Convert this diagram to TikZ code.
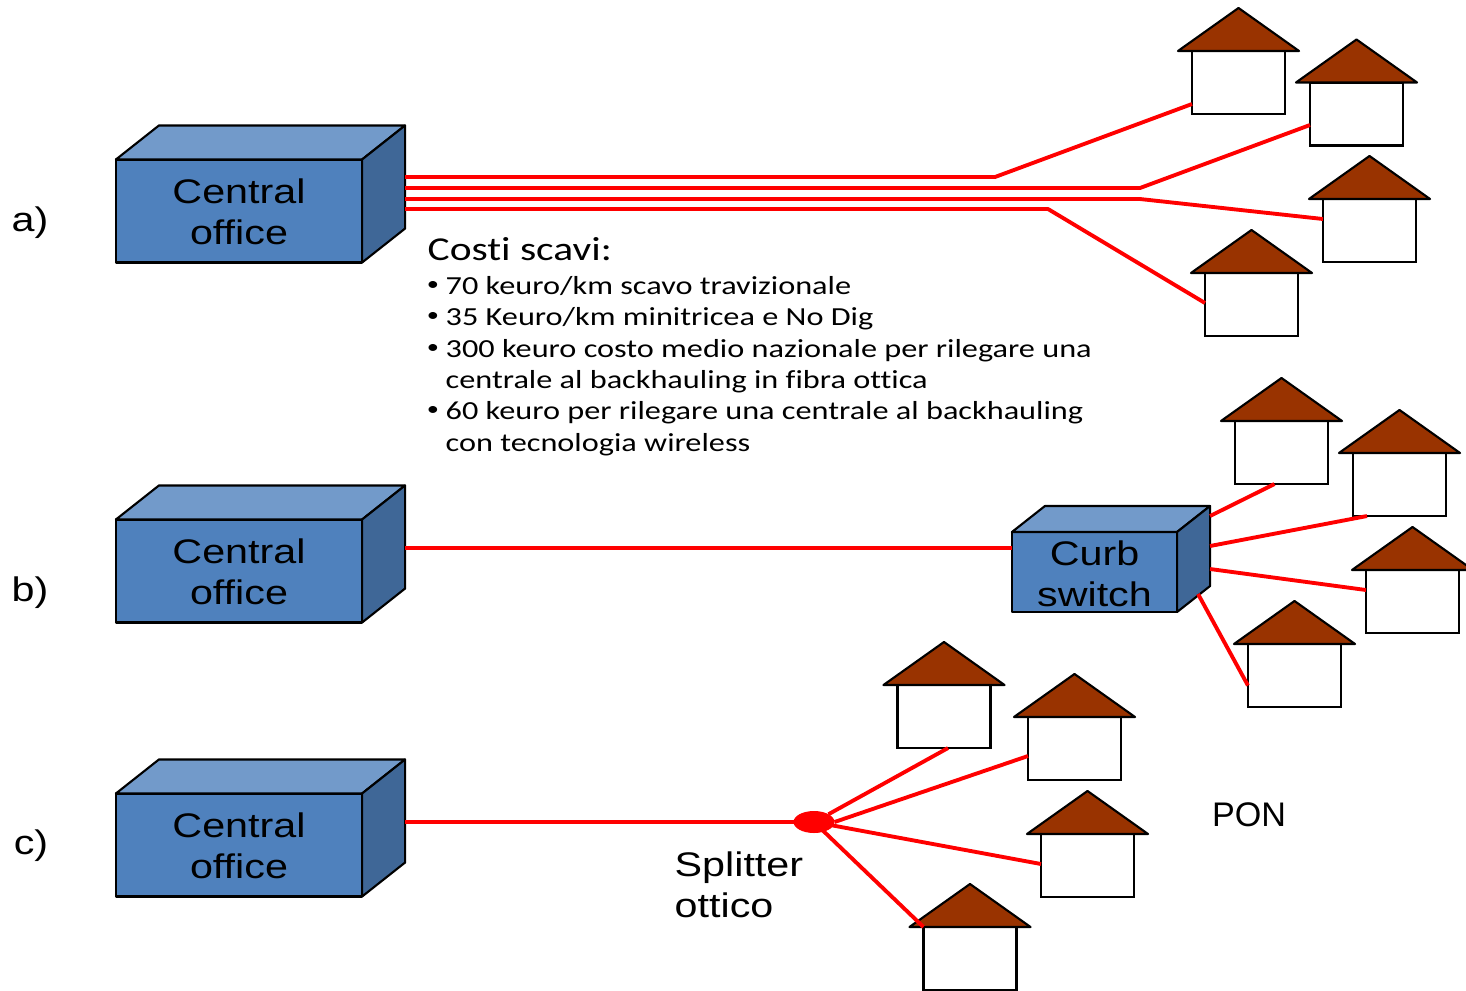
\documentclass[tikz,border=0pt]{standalone}
\usepackage{fontspec}
\setmainfont{Liberation Sans}
\newfontfamily\widearial[FakeStretch=1.21]{Liberation Sans}
\newfontfamily\widecalibri[FakeStretch=1.24,Ligatures=NoCommon]{Carlito}
\usetikzlibrary{shapes.geometric}
\definecolor{boxfront}{HTML}{4F81BD}
\definecolor{boxtop}{HTML}{729ACA}
\definecolor{boxside}{HTML}{3F6797}
\definecolor{roofbrown}{HTML}{993300}
\tikzset{
  boxface/.style={draw=black,line width=0.6pt,line join=round},
  frontface/.style={boxface,fill=boxfront,inner sep=0pt,outer sep=0pt},
  fronttext/.style={inner sep=0pt,align=center,font=\widearial\fontsize{9.7}{11.7}\selectfont},
  housebody/.style={draw=black,line width=0.6pt,fill=white,inner sep=0pt,outer sep=0pt,
    minimum width=0.93cm,minimum height=0.63cm},
  roof/.style={draw=black,line width=0.6pt,fill=roofbrown,line join=round},
  fibre/.style={red,line width=1.1pt,line join=round},
  label/.style={inner sep=0pt,align=left,font=\widearial\fontsize{9.7}{11.7}\selectfont},
  costi/.style={inner sep=0pt,anchor=base west,font=\widecalibri\fontsize{7.4}{8.9}\selectfont},
}
% box: front node already placed, #2 and #3 give the depth
\newcommand{\boxfaces}[3]{%
  \draw[boxface,fill=boxtop] (#1.north west) -- ([shift={(#2,-#3)}]#1.north west)
    -- ([shift={(#2,-#3)}]#1.north east) -- (#1.north east) -- cycle;%
  \draw[boxface,fill=boxside] (#1.north east) -- ([shift={(#2,-#3)}]#1.north east)
    -- ([shift={(#2,-#3)}]#1.south east) -- (#1.south east) -- cycle;%
}
\newcommand{\house}[3]{%
  \node[housebody] (#1) at (#2,#3) {};%
  \draw[roof] ([shift={(-14,0)}]#1.north west) -- ([shift={(0,-43)}]#1.north)
    -- ([shift={(14,0)}]#1.north east) -- cycle;%
}
\newcommand{\bulletmark}{\llap{\raisebox{0.13em}{\fontsize{5.6}{6}\selectfont\textbullet}\hspace{0.26em}}}
\begin{document}
\begin{tikzpicture}[x=0.01cm,y=-0.01cm]
  \useasboundingbox (0,0) rectangle (1466,990);

  \node[frontface,minimum width=2.46cm,minimum height=1.03cm] (COa) at (239,211) {};%
  \node[frontface,minimum width=2.46cm,minimum height=1.03cm] (COb) at (239,571) {};%
  \node[frontface,minimum width=2.46cm,minimum height=1.03cm] (COc) at (239,845) {};%
  \node[frontface,minimum width=1.65cm,minimum height=0.80cm] (Curb) at (1094.5,572) {};%
  \boxfaces{COa}{43}{34}
  \boxfaces{COb}{43}{34}
  \boxfaces{COc}{43}{34}
  \boxfaces{Curb}{33}{26}
  \node[fronttext] (COaText) at (239,212) {Central\\office};%
  \node[fronttext] (CObText) at (239,572) {Central\\office};%
  \node[fronttext] (COcText) at (239,846) {Central\\office};%
  \node[fronttext] (CurbText) at (1094.5,573.5) {Curb\\switch};%

  \house{Ha1}{1238.5}{82.5}
  \house{Ha2}{1356.5}{114}
  \house{Ha3}{1369.5}{230.5}
  \house{Ha4}{1251.5}{304.5}

  \house{Hb1}{1281.5}{452.5}
  \house{Hb2}{1399.5}{484.5}
  \house{Hb3}{1412.5}{601.5}
  \house{Hb4}{1294.5}{675.5}

  \house{Hc1}{944}{716.5}
  \house{Hc2}{1074.5}{748.5}
  \house{Hc3}{1087.5}{865.5}
  \house{Hc4}{970}{958.5}

  % a) one fibre per house
  \draw[fibre] ([shift={(43,-34)}]COa.east) -- (995,177) -- ([yshift=-0.215cm]Ha1.west);%
  \draw[fibre] ([shift={(43,-23)}]COa.east) -- (1140,188) -- ([yshift=-0.11cm]Ha2.west);%
  \draw[fibre] ([shift={(43,-12)}]COa.east) -- (1140,199) -- ([yshift=0.115cm]Ha3.west);%
  \draw[fibre] ([shift={(43,-2)}]COa.east) -- (1048,209) -- ([yshift=0.015cm]Ha4.west);%

  % b) one fibre up to the curb, then copper
  \draw[fibre] ([shift={(43,-23)}]COb.east) -- (Curb.west |- 0,548);%
  \draw[fibre] ([shift={(33,-56)}]Curb.east) -- ([xshift=-0.07cm]Hb1.south);%
  \draw[fibre] ([shift={(33,-26)}]Curb.east) -- ([xshift=0.14cm]Hb2.south west);%
  \draw[fibre] ([shift={(33,-3)}]Curb.east) -- ([yshift=0.115cm]Hb3.west);%
  \draw[fibre] ([shift={(21,22)}]Curb.east) -- ([yshift=-0.10cm]Hb4.west);%

  % c) passive split
  \draw[fibre] ([shift={(43,-23)}]COc.east) -- (794,822);%
  \node[ellipse,fill=red,inner sep=0pt,outer sep=0pt,minimum width=0.41cm,minimum height=0.22cm] (Split) at (814,822) {};%
  \draw[fibre] (Split.north east) -- ([xshift=0.04cm]Hc1.south);%
  \draw[fibre] (Split.east) -- ([yshift=-0.39cm]Hc2.north west);%
  \draw[fibre] (Split.center) -- ([yshift=-0.30cm]Hc3.north west);%
  \draw[fibre] (Split.center) -- (Hc4.north west);%

  \node[label] (La) at (30,223) {a)};%
  \node[label] (Lb) at (30,593) {b)};%
  \node[label] (Lc) at (31,846) {c)};%
  \node[label,anchor=north west] (SplitText) at (674,851) {Splitter\\ottico};%
  \node[label,font=\fontsize{9.7}{11.7}\selectfont] (Pon) at (1249,815) {PON};%

  \node[costi,font=\widecalibri\fontsize{9.5}{11}\selectfont] (Head) at (427,260) {Costi scavi:};%
  \node[costi] (T1) at (445,294) {\bulletmark 70 keuro/km scavo travizionale};%
  \node[costi] (T2) at (445,325) {\bulletmark 35 Keuro/km minitricea e No Dig};%
  \node[costi] (T3) at (445,357) {\bulletmark 300 keuro costo medio nazionale per rilegare una};%
  \node[costi] (T4) at (445,388) {centrale al backhauling in fibra ottica};%
  \node[costi] (T5) at (445,419) {\bulletmark 60 keuro per rilegare una centrale al backhauling};%
  \node[costi] (T6) at (445,451) {con tecnologia wireless};%
\end{tikzpicture}
\end{document}
